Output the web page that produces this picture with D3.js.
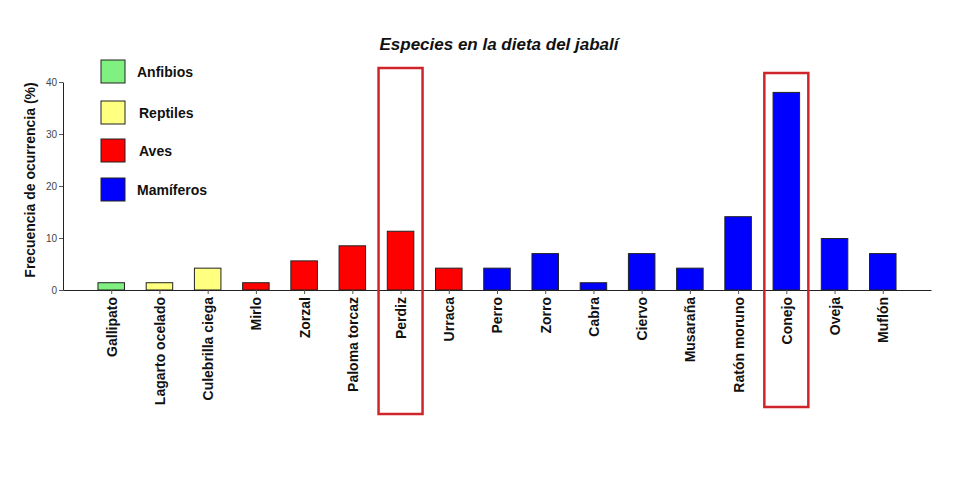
<!DOCTYPE html>
<html>
<head>
<meta charset="utf-8">
<script src="https://cdn.jsdelivr.net/npm/d3@7"></script>
<style>
  body { margin: 0; background: #fff; }
  svg { display: block; font-family: "Liberation Sans", Arial, sans-serif; }
</style>
</head>
<body>
<svg id="chart" width="956" height="492"></svg>
<script>
const especies = ["Gallipato", "Lagarto ocelado", "Culebrilla ciega", "Mirlo", "Zorzal", "Paloma torcaz",
  "Perdiz", "Urraca", "Perro", "Zorro", "Cabra", "Ciervo", "Musaraña", "Ratón moruno", "Conejo", "Oveja", "Muflón"];
const frecuencia = [1.4, 1.4, 4.2, 1.4, 5.6, 8.5, 11.3, 4.2, 4.2, 7.0, 1.4, 7.0, 4.2, 14.1, 38.0, 9.9, 7.0];
const grupo = ["Anfibios", "Reptiles", "Reptiles", "Aves", "Aves", "Aves", "Aves", "Aves",
  "Mamíferos", "Mamíferos", "Mamíferos", "Mamíferos", "Mamíferos", "Mamíferos", "Mamíferos", "Mamíferos", "Mamíferos"];
const grupos = ["Anfibios", "Reptiles", "Aves", "Mamíferos"];
const coloresGrupo = ["#80f080", "#ffff80", "#ff0000", "#0000ff"];
const yTicks = [0, 10, 20, 30, 40];
const destacadas = ["Perdiz", "Conejo"];

const svg = d3.select("#chart");
const plotLeft = 63, plotRight = 931, plotTop = 82, plotBottom = 290;

const x = d3.scalePoint().domain(especies).range([plotLeft, plotRight]).padding(1);
const y = d3.scaleLinear().domain([0, 40]).range([plotBottom, plotTop]);
const color = d3.scaleOrdinal().domain(grupos).range(coloresGrupo);
const barW = x.step() * 0.55;

// title
svg.append("text")
  .attr("x", 499).attr("y", 50)
  .attr("text-anchor", "middle")
  .attr("font-size", 17).attr("font-weight", "bold").attr("font-style", "italic")
  .attr("fill", "#111")
  .text("Especies en la dieta del jabalí");

// bars
svg.append("g").selectAll("rect")
  .data(especies)
  .join("rect")
  .attr("x", d => x(d) - barW / 2)
  .attr("y", (d, i) => y(frecuencia[i]))
  .attr("width", barW)
  .attr("height", (d, i) => y(0) - y(frecuencia[i]))
  .attr("fill", (d, i) => color(grupo[i]))
  .attr("stroke", "#222").attr("stroke-width", 1);

// y axis
const yAxis = svg.append("g")
  .attr("transform", `translate(${plotLeft},0)`)
  .call(d3.axisLeft(y).tickValues(yTicks).tickSize(4).tickPadding(2).tickSizeOuter(0));
yAxis.select(".domain").attr("stroke", "#222");
yAxis.selectAll(".tick line").attr("stroke", "#555");
yAxis.selectAll(".tick text").attr("font-size", 10).attr("fill", "#444");

// x axis
const xAxis = svg.append("g")
  .attr("transform", `translate(0,${plotBottom})`)
  .call(d3.axisBottom(x).tickSize(4).tickSizeOuter(0));
xAxis.select(".domain").attr("stroke", "#222").attr("stroke-width", 1.2);
xAxis.selectAll(".tick line").attr("stroke", "#555");
xAxis.selectAll(".tick text")
  .attr("font-size", 14).attr("font-weight", "bold").attr("fill", "#111")
  .attr("transform", "rotate(-90)")
  .attr("text-anchor", "end")
  .attr("x", -7).attr("y", 0).attr("dy", "0.35em");

// y axis title
svg.append("text")
  .attr("transform", `translate(35,${(plotTop + plotBottom) / 2 - 6}) rotate(-90)`)
  .attr("text-anchor", "middle")
  .attr("font-size", 14).attr("font-weight", "bold").attr("fill", "#111")
  .text("Frecuencia de ocurrencia (%)");

// legend
const legendY = [60, 101, 139, 178];
const legendTextX = [137, 139, 139, 137];
const legend = svg.append("g").selectAll("g")
  .data(grupos)
  .join("g")
  .attr("transform", (d, i) => `translate(101,${legendY[i]})`);
legend.append("rect")
  .attr("width", 24).attr("height", 23)
  .attr("fill", d => color(d))
  .attr("stroke", "#222").attr("stroke-width", 1);
legend.append("text")
  .attr("x", (d, i) => legendTextX[i] - 101).attr("y", 12)
  .attr("dy", "0.35em")
  .attr("font-size", 14).attr("font-weight", "bold").attr("fill", "#111")
  .text(d => d);

// highlight boxes
const boxTop = { "Perdiz": 68, "Conejo": 73 };
const boxBottom = { "Perdiz": 414, "Conejo": 407 };
svg.append("g").selectAll("rect")
  .data(destacadas)
  .join("rect")
  .attr("x", d => x(d) - 22)
  .attr("y", d => boxTop[d])
  .attr("width", 44)
  .attr("height", d => boxBottom[d] - boxTop[d])
  .attr("fill", "none")
  .attr("stroke", "#d0242b").attr("stroke-width", 2.5);
</script>
</body>
</html>
